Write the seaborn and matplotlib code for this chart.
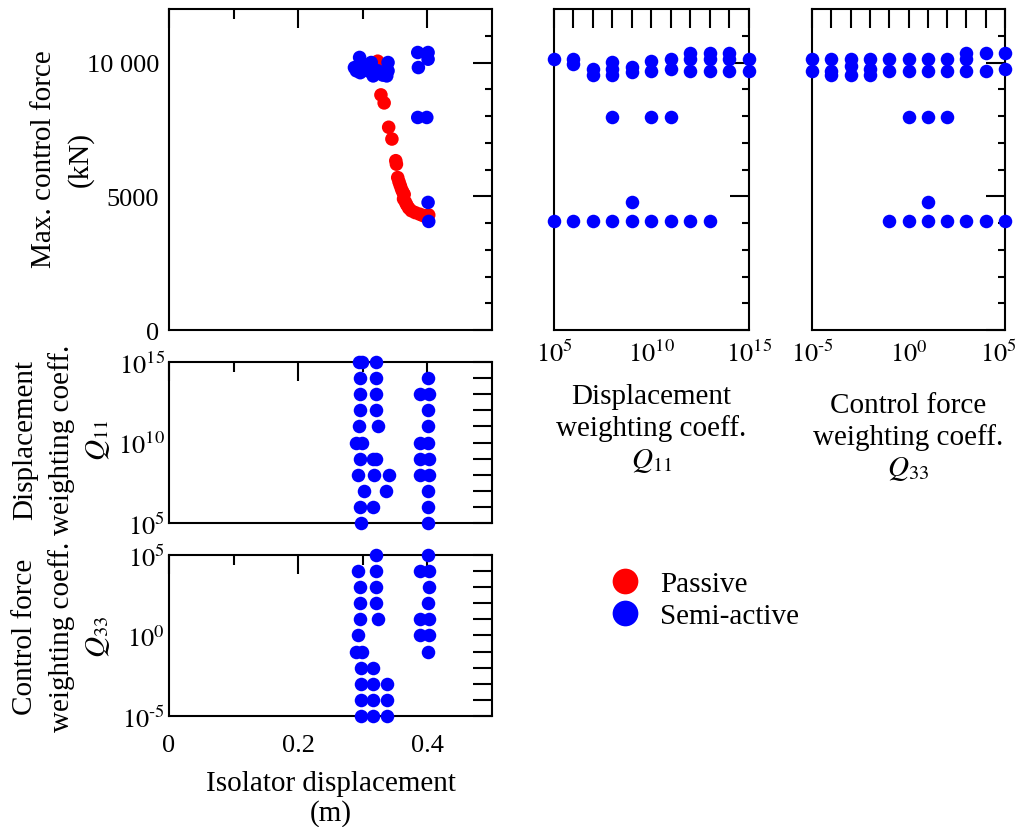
import numpy as np
import pandas as pd
import seaborn as sns
import matplotlib.pyplot as plt
from matplotlib.ticker import FixedLocator
from matplotlib.transforms import ScaledTranslation

RED = "#ff0000"
BLUE = "#0000ff"
LEGEND_BLUE = "#0033cc"

# passive (red) curve: isolator displacement (m) vs max. control force (kN)
passive_disp = [0.323, 0.325, 0.326, 0.328, 0.333, 0.340, 0.345, 0.351, 0.352,
                0.354, 0.356, 0.358, 0.360, 0.362, 0.364, 0.363, 0.366, 0.368,
                0.371, 0.375, 0.381, 0.388, 0.393, 0.398, 0.402]
passive_force = [10050, 9850, 9700, 8790, 8490, 7580, 7140, 6330, 6200,
                 5700, 5540, 5400, 5260, 5150, 5070, 4900, 4780, 4680,
                 4560, 4460, 4390, 4330, 4280, 4270, 4300]

# semi-active (blue): displacement vs force
sa_disp = [0.287, 0.290, 0.295, 0.296, 0.300, 0.303, 0.308, 0.313, 0.316,
           0.320, 0.323, 0.331, 0.339, 0.339, 0.337,
           0.385, 0.401, 0.401, 0.386, 0.385, 0.399, 0.401, 0.402]
sa_force = [9810, 9690, 10190, 9620, 9700, 9810, 9690, 10000, 9500,
            9650, 9690, 9530, 10000, 9690, 9500,
            10374, 10374, 10124, 9812, 7946, 7946, 4770, 4060]

# semi-active: Q11 exponent vs force
q11_force_exp = [5, 5, 6, 6, 6, 7, 7, 7, 8, 8, 8, 8, 8, 9, 9, 9, 9,
                 10, 10, 10, 10, 11, 11, 11, 11, 12, 12, 12, 12,
                 13, 13, 13, 13, 14, 14, 14, 15, 15]
q11_force_val = [10124, 4060, 10150, 9937, 4060, 9757, 9526, 4060,
                 10020, 9757, 9526, 7946, 4060, 9830, 9645, 4770, 4060,
                 10055, 9688, 7946, 4060, 10124, 9775, 7946, 4060,
                 10374, 10124, 9688, 4060, 10374, 10124, 9688, 4060,
                 10374, 10124, 9688, 10124, 9688]

# semi-active: Q33 exponent vs force
q33_force_exp = [-5, -5, -4, -4, -4, -3, -3, -3, -2, -2, -2, -1, -1, -1,
                 0, 0, 0, 0, 1, 1, 1, 1, 1, 2, 2, 2, 2,
                 3, 3, 3, 3, 4, 4, 4, 5, 5, 5]
q33_force_val = [10124, 9688, 10124, 9688, 9526, 10124, 9880, 9526,
                 10124, 9750, 9526, 10124, 9688, 4060,
                 10124, 9688, 7946, 4060, 10124, 9688, 7946, 4770, 4060,
                 10124, 9688, 7946, 4060, 10374, 10124, 9688, 4060,
                 10374, 9688, 4060, 10374, 9750, 4060]

# semi-active: displacement vs Q11 exponent
disp_q11_exp = [15, 15, 15, 14, 14, 14, 13, 13, 13, 13, 12, 12, 12,
                11, 11, 11, 10, 10, 10, 10, 9, 9, 9, 9, 9,
                8, 8, 8, 8, 8, 7, 7, 7, 6, 6, 6, 5, 5]
disp_q11_val = [0.294, 0.299, 0.320, 0.295, 0.320, 0.401, 0.295, 0.320, 0.388, 0.403,
                0.295, 0.320, 0.401, 0.294, 0.323, 0.401, 0.290, 0.299, 0.388, 0.401,
                0.295, 0.315, 0.320, 0.388, 0.403, 0.292, 0.317, 0.340, 0.388, 0.403,
                0.302, 0.336, 0.401, 0.295, 0.315, 0.401, 0.297, 0.401]

# semi-active: displacement vs Q33 exponent
disp_q33_exp = [5, 5, 4, 4, 4, 4, 3, 3, 3, 2, 2, 2, 1, 1, 1, 1,
                0, 0, 0, -1, -1, -1, -2, -2, -3, -3, -3, -4, -4, -4, -5, -5, -5]
disp_q33_val = [0.320, 0.401, 0.292, 0.320, 0.388, 0.403, 0.295, 0.320, 0.403,
                0.295, 0.320, 0.401, 0.295, 0.323, 0.388, 0.403,
                0.292, 0.388, 0.403, 0.289, 0.299, 0.401, 0.297, 0.315,
                0.297, 0.315, 0.338, 0.297, 0.315, 0.338, 0.297, 0.315, 0.338]

FONT = 21
TICK_FONT = 19
MS = 95


def style_axis(ax):
    for s in ax.spines.values():
        s.set_linewidth(1.5)
        s.set_color("black")
    ax.tick_params(which="both", direction="in", top=True, right=True,
                   width=1.5, labelsize=TICK_FONT, color="black", labelcolor="black")
    ax.tick_params(which="major", length=14, pad=7)
    ax.tick_params(which="minor", length=5)


def disp_xaxis(ax, labels):
    ax.set_xlim(0, 0.5)
    ax.xaxis.set_major_locator(FixedLocator([0, 0.2, 0.4]))
    ax.xaxis.set_minor_locator(FixedLocator([0.1, 0.3]))
    ax.tick_params(axis="x", which="minor", length=7)
    if labels:
        ax.set_xticklabels(["0", "0.2", "0.4"])
        ax.tick_params(axis="x", which="major", pad=13)
    else:
        ax.set_xticklabels([])


def force_yaxis(ax, labels):
    ax.set_ylim(0, 12000)
    ax.yaxis.set_major_locator(FixedLocator([0, 5000, 10000]))
    ax.yaxis.set_minor_locator(FixedLocator(np.arange(1000, 12000, 1000)))
    if labels:
        ax.set_yticklabels(["0", "5000", "10 000"])
    else:
        ax.set_yticklabels([])


def exp_label(v):
    v = int(v)
    if v < 0:
        return rf"$10^{{\text{{-}}{-v}}}$"
    return rf"$10^{{{v}}}$"


def log_axis(axis, lo, hi):
    # log scale drawn on exponent values, ticks every decade
    mid = (lo + hi) / 2
    axis.set_major_locator(FixedLocator([lo, mid, hi]))
    axis.set_minor_locator(FixedLocator(np.arange(lo + 1, hi)))
    axis.set_ticklabels([exp_label(v) for v in [lo, mid, hi]])


def set_ylab(ax, text, x=-0.331, y=0.52):
    ax.set_ylabel(text, fontsize=FONT, linespacing=1.45, va="center", color="black")
    ax.yaxis.set_label_coords(x, y)


def plot_figure():
    sns.set_style("white")
    plt.rcParams["font.family"] = ["Liberation Serif", "DejaVu Serif"]
    plt.rcParams["mathtext.fontset"] = "stix"
    plt.rcParams["text.color"] = "black"

    fig = plt.figure(figsize=(10.2, 8.28), dpi=100)
    ax_tl = fig.add_axes([0.1657, 0.6002, 0.3167, 0.3877])
    ax_ml = fig.add_axes([0.1657, 0.3671, 0.3167, 0.1944])
    ax_bl = fig.add_axes([0.1657, 0.1341, 0.3167, 0.1944])
    ax_tm = fig.add_axes([0.5431, 0.6002, 0.1912, 0.3877])
    ax_tr = fig.add_axes([0.7961, 0.6002, 0.1892, 0.3877])

    # force vs displacement
    df_tl = pd.DataFrame({
        "disp": passive_disp + sa_disp,
        "force": passive_force + sa_force,
        "kind": ["Passive"] * len(passive_disp) + ["Semi-active"] * len(sa_disp),
    })
    sns.scatterplot(data=df_tl, x="disp", y="force", hue="kind",
                    palette={"Passive": RED, "Semi-active": BLUE},
                    s=MS, linewidth=0, ax=ax_tl, clip_on=False, zorder=3)
    style_axis(ax_tl)
    disp_xaxis(ax_tl, False)
    force_yaxis(ax_tl, True)
    ax_tl.set_xlabel("")
    set_ylab(ax_tl, "Max. control force\n(kN)", x=-0.33, y=0.535)

    # Q11 vs displacement
    df_ml = pd.DataFrame({"disp": disp_q11_val, "q11": disp_q11_exp})
    sns.scatterplot(data=df_ml, x="disp", y="q11", color=BLUE, s=MS,
                    linewidth=0, ax=ax_ml, clip_on=False, zorder=3)
    style_axis(ax_ml)
    disp_xaxis(ax_ml, False)
    ax_ml.set_ylim(5, 15)
    log_axis(ax_ml.yaxis, 5, 15)
    ax_ml.tick_params(axis="y", which="minor", left=False, right=True, length=14)
    ax_ml.tick_params(axis="y", which="major", pad=3)
    ax_ml.set_xlabel("")
    set_ylab(ax_ml, "Displacement\nweighting coeff.\n$Q_{11}$")

    # Q33 vs displacement
    df_bl = pd.DataFrame({"disp": disp_q33_val, "q33": disp_q33_exp})
    sns.scatterplot(data=df_bl, x="disp", y="q33", color=BLUE, s=MS,
                    linewidth=0, ax=ax_bl, clip_on=False, zorder=3)
    style_axis(ax_bl)
    disp_xaxis(ax_bl, True)
    ax_bl.set_ylim(-5, 5)
    log_axis(ax_bl.yaxis, -5, 5)
    ax_bl.tick_params(axis="y", which="minor", left=False, right=True, length=14)
    ax_bl.tick_params(axis="y", which="major", pad=3)
    ax_bl.set_xlabel("Isolator displacement\n(m)", fontsize=FONT, linespacing=1.15,
                     labelpad=10, color="black")
    set_ylab(ax_bl, "Control force\nweighting coeff.\n$Q_{33}$", y=0.5)

    # force vs Q11
    df_tm = pd.DataFrame({"q11": q11_force_exp, "force": q11_force_val})
    sns.scatterplot(data=df_tm, x="q11", y="force", color=BLUE, s=MS,
                    linewidth=0, ax=ax_tm, clip_on=False, zorder=3)
    style_axis(ax_tm)
    ax_tm.set_xlim(5, 15)
    log_axis(ax_tm.xaxis, 5, 15)
    ax_tm.tick_params(axis="x", which="minor", bottom=False, top=True, length=14)
    force_yaxis(ax_tm, False)
    ax_tm.set_ylabel("")
    ax_tm.set_xlabel("Displacement\nweighting coeff.\n$Q_{11}$", fontsize=FONT,
                     linespacing=1.25, labelpad=12, color="black")

    # force vs Q33
    df_tr = pd.DataFrame({"q33": q33_force_exp, "force": q33_force_val})
    sns.scatterplot(data=df_tr, x="q33", y="force", color=BLUE, s=MS,
                    linewidth=0, ax=ax_tr, clip_on=False, zorder=3)
    style_axis(ax_tr)
    ax_tr.set_xlim(-5, 5)
    log_axis(ax_tr.xaxis, -5, 5)
    ax_tr.tick_params(axis="x", which="minor", bottom=False, top=True, length=14)
    force_yaxis(ax_tr, False)
    ax_tr.set_ylabel("")
    ax_tr.set_xlabel("Control force\nweighting coeff.\n$Q_{33}$", fontsize=FONT,
                     linespacing=1.2, labelpad=19, color="black")
    # keep the last tick label inside the figure edge
    last = ax_tr.xaxis.get_majorticklabels()[-1]
    last.set_transform(last.get_transform() + ScaledTranslation(-5 / 72, 0, fig.dpi_scale_trans))

    sns.move_legend(ax_tl, loc="center left", bbox_to_anchor=(0.573, 0.274),
                    bbox_transform=fig.transFigure, frameon=False, title=None,
                    fontsize=FONT, markerscale=1.9, handletextpad=0.2,
                    labelspacing=0.2, borderaxespad=0)
    leg = ax_tl.get_legend()
    leg.legend_handles[1].set_color(LEGEND_BLUE)
    for t in leg.get_texts():
        t.set_color("black")

    fig.savefig("out.png", dpi=100)


if __name__ == "__main__":
    plot_figure()
